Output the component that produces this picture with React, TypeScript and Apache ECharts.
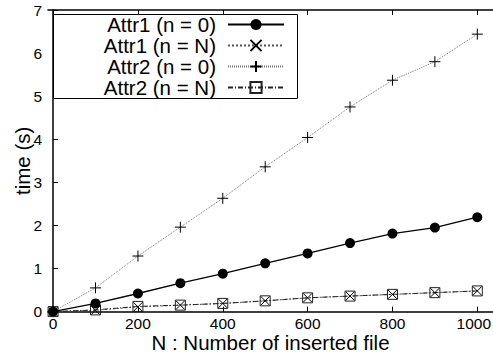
import React, { useEffect, useRef } from "react";
import * as echarts from "echarts";

const xValues = [0, 100, 200, 300, 400, 500, 600, 700, 800, 900, 1000];
const attr1N0 = [0, 0.19, 0.42, 0.66, 0.88, 1.12, 1.35, 1.59, 1.81, 1.95, 2.19];
const attr1NN = [0, 0.03, 0.11, 0.15, 0.19, 0.25, 0.32, 0.36, 0.4, 0.44, 0.48];
const attr2N0 = [0, 0.55, 1.29, 1.96, 2.63, 3.36, 4.04, 4.75, 5.37, 5.8, 6.44];
const attr2NN = [0, 0.04, 0.12, 0.15, 0.19, 0.25, 0.32, 0.36, 0.4, 0.44, 0.48];
const xTicks = [0, 200, 400, 600, 800, 1000];
const seriesNames = ["Attr1 (n = 0)", "Attr1 (n = N)", "Attr2 (n = 0)", "Attr2 (n = N)"];

const FONT = "'Liberation Sans', Arial, sans-serif";

const pair = (ys: number[]) => xValues.map((x, i) => [x, ys[i]]);

export default function App() {
  const ref = useRef<HTMLDivElement>(null);
  useEffect(() => {
    if (!ref.current) return;
    const chart = echarts.init(ref.current, undefined, { renderer: "svg" });
    const xCommon = {
      type: "value" as const,
      min: -12,
      max: 1037,
      splitLine: { show: false },
      axisLine: { show: true, onZero: false, lineStyle: { color: "#000", width: 1.5 } },
      axisTick: { show: true, inside: true, length: 5, customValues: xTicks, lineStyle: { color: "#000", width: 1 } },
    };
    const lastTick = xTicks[xTicks.length - 1];
    chart.setOption({
      animation: false,
      backgroundColor: "#fff",
      textStyle: { fontFamily: FONT },
      grid: { left: 48, right: 0, top: 10, bottom: 48.4, containLabel: false, outerBoundsMode: "none" },
      xAxis: [
        {
          ...xCommon,
          position: "bottom",
          name: "N : Number of inserted file",
          nameLocation: "middle",
          nameGap: 20,
          nameMoveOverlap: false,
          nameTextStyle: { fontSize: 20.5, color: "#000", fontFamily: FONT },
          axisLabel: {
            customValues: xTicks,
            fontSize: 15.5,
            color: "#000",
            margin: 4,
            fontFamily: FONT,
            formatter: (v: number) => (v === lastTick ? `{last|${v}}` : String(v)),
            rich: {
              last: { fontSize: 15.5, color: "#000", fontFamily: FONT, padding: [0, 7, 0, 0] },
            },
          },
        },
        {
          ...xCommon,
          position: "top",
          axisLabel: { show: false },
        },
      ],
      yAxis: {
        type: "value",
        min: 0,
        max: 7,
        interval: 1,
        splitLine: { show: false },
        axisLine: { show: true, lineStyle: { color: "#000", width: 1.5 } },
        axisTick: { show: true, inside: true, length: 5, lineStyle: { color: "#000", width: 1 } },
        axisLabel: { fontSize: 15.5, color: "#000", margin: 6, fontFamily: FONT },
        name: "time (s)",
        nameLocation: "middle",
        nameGap: 15,
        nameMoveOverlap: false,
        nameTextStyle: { fontSize: 20.5, color: "#000", fontFamily: FONT },
      },
      legend: {
        show: true,
        orient: "vertical",
        align: "right",
        right: 208,
        top: 14,
        padding: 0,
        itemGap: 0,
        itemWidth: 56,
        itemHeight: 14,
        z: 5,
        data: seriesNames,
        textStyle: { fontSize: 20.5, color: "#000", lineHeight: 21, padding: [0, 7, 0, 0], fontFamily: FONT },
      },
      graphic: [
        {
          type: "rect",
          z: 4,
          shape: { x: 53.5, y: 14.5, width: 244, height: 84 },
          style: { fill: "#fff", stroke: "#000", lineWidth: 1 },
        },
      ],
      series: [
        {
          name: seriesNames[0],
          type: "line",
          data: pair(attr1N0),
          symbol: "circle",
          symbolSize: 10,
          itemStyle: { color: "#000" },
          lineStyle: { color: "#000", width: 1.3, type: "solid" },
          z: 3,
        },
        {
          name: seriesNames[1],
          type: "line",
          data: pair(attr1NN),
          symbol: "path://M0,0L10,10M10,0L0,10",
          symbolSize: 9,
          itemStyle: { color: "#000", borderColor: "#000", borderWidth: 1 },
          lineStyle: { color: "#555", width: 1, type: [2, 2] },
          z: 2,
        },
        {
          name: seriesNames[2],
          type: "line",
          data: pair(attr2N0),
          symbol: "path://M0,5L10,5M5,0L5,10",
          symbolSize: 11,
          itemStyle: { color: "#000", borderColor: "#000", borderWidth: 1 },
          lineStyle: { color: "#777", width: 1, type: [1, 1] },
          z: 2,
        },
        {
          name: seriesNames[3],
          type: "line",
          data: pair(attr2NN),
          symbol: "rect",
          symbolSize: 10,
          itemStyle: { color: "rgba(255,255,255,0)", borderColor: "#222", borderWidth: 1 },
          lineStyle: { color: "#222", width: 1, type: [5, 2, 1, 2] },
          z: 2,
        },
      ],
    });
    return () => chart.dispose();
  }, []);
  return <div ref={ref} style={{ width: 493, height: 360, position: "absolute", left: 0, top: 0 }} />;
}
